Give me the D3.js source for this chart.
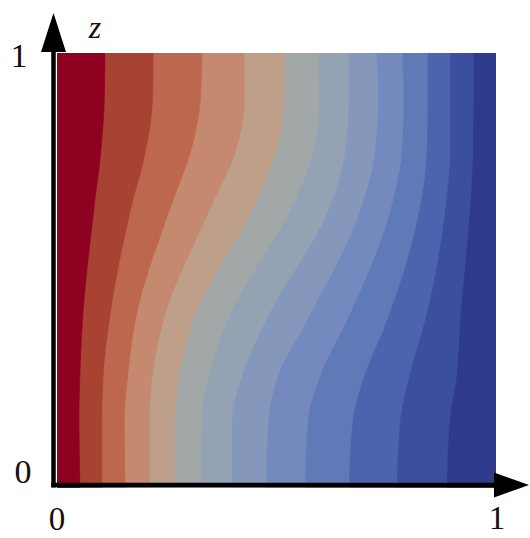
<!DOCTYPE html>
<html>
<head>
<meta charset="utf-8">
<script src="https://cdn.jsdelivr.net/npm/d3@7"></script>
<style>
  html, body { margin: 0; padding: 0; background: #fff; }
  svg { display: block; }
  text { font-family: "Liberation Serif", "Times New Roman", serif; fill: #111; }
</style>
</head>
<body>
<svg id="chart" width="530" height="538"></svg>
<script>
// Heights (z) at which each isoline's horizontal position was sampled
const zLevels = [0, 0.154, 0.258, 0.385, 0.65, 0.776, 0.9, 1];

// Horizontal position of each of the 12 isolines at the heights above
const isolines = [
  [0.052, 0.050, 0.052, 0.058, 0.085, 0.100, 0.108, 0.109],
  [0.102, 0.102, 0.105, 0.119, 0.170, 0.202, 0.218, 0.219],
  [0.155, 0.153, 0.161, 0.178, 0.260, 0.305, 0.327, 0.330],
  [0.210, 0.210, 0.217, 0.242, 0.352, 0.407, 0.427, 0.426],
  [0.267, 0.267, 0.278, 0.310, 0.449, 0.500, 0.518, 0.518],
  [0.327, 0.328, 0.345, 0.387, 0.536, 0.584, 0.597, 0.595],
  [0.398, 0.398, 0.421, 0.475, 0.622, 0.656, 0.664, 0.665],
  [0.476, 0.481, 0.503, 0.569, 0.694, 0.724, 0.731, 0.728],
  [0.565, 0.571, 0.599, 0.660, 0.762, 0.785, 0.789, 0.787],
  [0.665, 0.673, 0.700, 0.751, 0.827, 0.842, 0.844, 0.844],
  [0.774, 0.781, 0.802, 0.838, 0.885, 0.895, 0.895, 0.895],
  [0.888, 0.894, 0.910, 0.918, 0.941, 0.947, 0.948, 0.948]
];

// One fill colour per band, from the hot side (left) to the cold side (right)
const bandColors = [
  "#8e0120", "#a84333", "#bd684e", "#c4896e", "#bd9f8a", "#a2a7a8", "#94a3b3",
  "#8598bb", "#7489bd", "#6079b7", "#4d63ad", "#3c4f9f", "#2e3a8c"
];

const xTicks = ["0", "1"];
const zTicks = ["0", "1"];
const zName = "z";

const svg = d3.select("#chart");

const x = d3.scaleLinear().domain([0, 1]).range([57, 496]);
const y = d3.scaleLinear().domain([0, 1]).range([488, 53]);

svg.append("defs").append("clipPath").attr("id", "plotClip")
  .append("rect")
  .attr("x", x(0)).attr("y", y(1))
  .attr("width", x(1) - x(0)).attr("height", y(0) - y(1));

const plot = svg.append("g").attr("clip-path", "url(#plotClip)");

// Background: coldest band fills the whole square
plot.append("rect")
  .attr("x", x(0)).attr("y", y(1))
  .attr("width", x(1) - x(0)).attr("height", y(0) - y(1))
  .attr("fill", bandColors[bandColors.length - 1]);

// Each band k covers everything left of isoline k; draw from right to left
const area = d3.area()
  .y(d => y(d.z))
  .x0(x(0) - 2)
  .x1(d => x(d.v))
  .curve(d3.curveMonotoneY);

const bands = isolines.map((line, k) => ({
  k,
  pts: [{ z: -0.02, v: line[0] }]
    .concat(line.map((v, i) => ({ z: zLevels[i], v })))
    .concat([{ z: 1.02, v: line[line.length - 1] }])
}));

plot.selectAll("path.band")
  .data(bands.slice().reverse())
  .join("path")
  .attr("class", "band")
  .attr("d", d => area(d.pts))
  .attr("fill", d => bandColors[d.k])
  .attr("stroke", d => bandColors[d.k])
  .attr("stroke-width", 0.6);

// Axes with arrow heads
const axisColor = "#000";
svg.append("line")
  .attr("x1", 53.5).attr("y1", 487.5).attr("x2", 53.5).attr("y2", 48)
  .attr("stroke", axisColor).attr("stroke-width", 4.5);
svg.append("path")
  .attr("d", "M53.5,13 L41,52 L66,52 Z")
  .attr("fill", axisColor);

svg.append("line")
  .attr("x1", 51.3).attr("y1", 485).attr("x2", 497).attr("y2", 485)
  .attr("stroke", axisColor).attr("stroke-width", 4.5);
svg.append("path")
  .attr("d", "M494,472.5 L529,485 L494,497.5 Z")
  .attr("fill", axisColor);

// Tick labels
svg.append("text").attr("x", x(0)).attr("y", 530)
  .attr("text-anchor", "middle").attr("font-size", 33).text(xTicks[0]);
svg.append("text").attr("x", x(1) + 1).attr("y", 529)
  .attr("text-anchor", "middle").attr("font-size", 33).text(xTicks[1]);
svg.append("text").attr("x", 23).attr("y", 483)
  .attr("text-anchor", "middle").attr("font-size", 34).text(zTicks[0]);
svg.append("text").attr("x", 19).attr("y", 67)
  .attr("text-anchor", "middle").attr("font-size", 34).text(zTicks[1]);

// Axis name
svg.append("text").attr("x", 95).attr("y", 38)
  .attr("text-anchor", "middle").attr("font-size", 32)
  .attr("font-style", "italic").text(zName);
</script>
</body>
</html>
